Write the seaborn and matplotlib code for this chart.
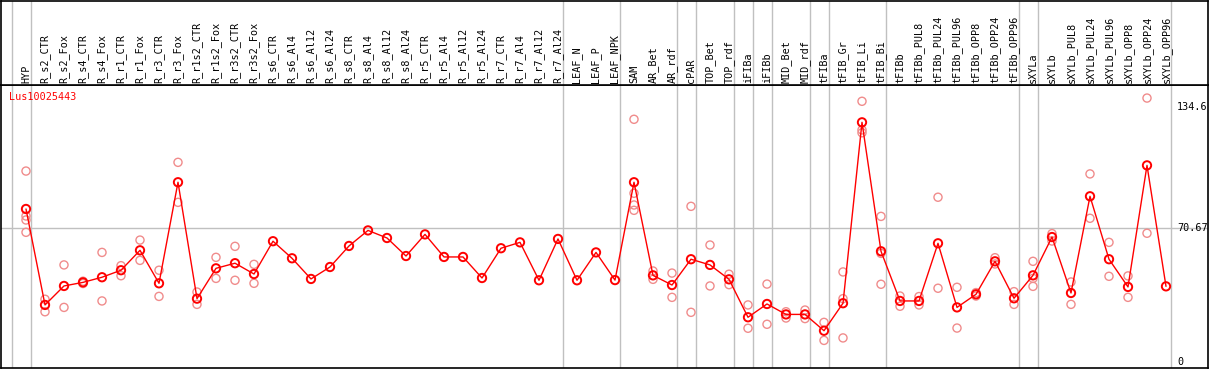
import matplotlib
matplotlib.use("Agg")
import matplotlib.pyplot as plt
import matplotlib.transforms as mtrans
import seaborn as sns
import pandas as pd
import numpy as np

categories = ["HYP", "R_s2_CTR", "R_s2_Fox", "R_s4_CTR", "R_s4_Fox", "R_r1_CTR", "R_r1_Fox",
              "R_r3_CTR", "R_r3_Fox", "R_r1s2_CTR", "R_r1s2_Fox", "R_r3s2_CTR", "R_r3s2_Fox",
              "R_s6_CTR", "R_s6_Al4", "R_s6_Al12", "R_s6_Al24", "R_s8_CTR", "R_s8_Al4",
              "R_s8_Al12", "R_s8_Al24", "R_r5_CTR", "R_r5_Al4", "R_r5_Al12", "R_r5_Al24",
              "R_r7_CTR", "R_r7_Al4", "R_r7_Al12", "R_r7_Al24", "LEAF_N", "LEAF_P", "LEAF_NPK",
              "SAM", "AR_Bet", "AR_rdf", "cPAR", "TOP_Bet", "TOP_rdf", "iFIBa", "iFIBb",
              "MID_Bet", "MID_rdf", "tFIBa", "tFIB_Gr", "tFIB_Li", "tFIB_Bi", "tFIBb",
              "tFIBb_PUL8", "tFIBb_PUL24", "tFIBb_PUL96", "tFIBb_OPP8", "tFIBb_OPP24",
              "tFIBb_OPP96", "sXYLa", "sXYLb", "sXYLb_PUL8", "sXYLb_PUL24", "sXYLb_PUL96",
              "sXYLb_OPP8", "sXYLb_OPP24", "sXYLb_OPP96"]

means = [80.7, 30.1, 40.1, 42.0, 44.7, 48.4, 58.9, 41.5, 94.8, 33.4, 49.4, 52.1, 46.4,
         63.7, 54.7, 43.8, 50.1, 61.2, 69.4, 65.4, 55.9, 67.3, 55.4, 55.4, 44.3,
         60.0, 63.1, 43.1, 64.9, 43.1, 57.8, 43.2,
         94.8, 45.7, 40.6, 54.2, 51.2, 43.6, 23.6, 30.6, 25.1, 25.1, 16.5, 31.0,
         126.4, 58.4, 32.2, 32.2, 62.6, 28.8, 35.7, 53.1, 33.6, 45.7, 65.9, 36.4,
         87.4, 54.2, 39.6, 103.7, 39.9]

replicates = [[100.7, 77.0, 74.9, 68.4], [33.1, 26.5], [51.2, 28.8], [41.4, 42.6],
              [57.8, 32.2], [50.8, 45.5], [64.3, 53.6], [48.4, 34.6], [105.3, 84.2],
              [36.9, 30.4], [55.2, 44.1], [61.0, 43.1], [51.5, 41.5],
              [], [], [], [], [], [], [], [], [], [], [], [], [], [], [], [], [], [], [],
              [128.0, 89.0, 82.8, 80.0], [48.0, 43.6], [46.9, 34.1], [82.1, 26.2],
              [61.7, 40.1], [46.3, 40.8], [30.1, 17.8], [41.1, 19.9], [26.5, 23.2],
              [27.4, 22.9], [20.9, 11.4], [47.5, 33.4, 12.7], [137.5, 122.4, 120.9],
              [76.8, 57.3, 41.0], [34.8, 29.4], [34.5, 30.1], [86.9, 38.9], [39.4, 17.9],
              [36.6, 34.8], [55.0, 51.7], [37.1, 30.4], [53.1, 44.1, 39.9], [67.7, 63.8],
              [42.2, 30.4], [99.2, 75.8], [63.1, 45.2], [45.4, 34.1], [139.2, 67.9], []]

group_breaks = [-1, 0, 28, 31, 34, 35, 37, 38, 39, 41, 42, 45, 52, 53, 60]
y_ticks = [134.6, 70.67, 0]
y_tick_labels = ["134.6", "70.67", "0"]
gene = "Lus10025443"

df_mean = pd.DataFrame({"pos": np.arange(len(categories)), "value": means})
rep_pos, rep_val = [], []
for i, r in enumerate(replicates):
    for v in r:
        rep_pos.append(i)
        rep_val.append(v)
df_rep = pd.DataFrame({"pos": rep_pos, "value": rep_val})

W, H = 1209, 370
fig = plt.figure(figsize=(W / 100, H / 100), dpi=100)
sns.set_style("white")
plt.rcParams["font.family"] = ["DejaVu Sans Mono"]

px = 19.0
x0 = 26.0
xl = -(x0 - 1) / px
xr = (len(categories) - 1) + (1208 - (x0 + px * (len(categories) - 1))) / px
ppu = (362 - 228) / 70.67
yb = -(368 - 362) / ppu
yt = (362 - 85) / ppu

ax = fig.add_axes([1 / W, 2 / H, 1207 / W, 283 / H])
axh = fig.add_axes([1 / W, 285 / H, 1207 / W, 84.5 / H], sharex=ax)

for a in (ax, axh):
    for s in a.spines.values():
        s.set_color("black")
        s.set_linewidth(1.2)
        s.set_visible(True)
    a.set_xticks([])
    a.set_yticks([])
    a.set_xlabel("")
    a.set_ylabel("")
    for g in group_breaks:
        a.axvline(g + 4.5 / px, color="#c0c0c0", lw=1.0, zorder=0)

ax.set_xlim(xl, xr)
ax.set_ylim(yb, yt)
axh.set_ylim(0, 1)
ax.axhline(70.67, color="#c0c0c0", lw=1.0, zorder=0)

sns.scatterplot(data=df_rep, x="pos", y="value", ax=ax, marker="o", s=34,
                facecolors="none", edgecolor="#f08c8c", linewidth=1.0, zorder=2)
sns.lineplot(data=df_mean, x="pos", y="value", ax=ax, color="red", lw=1.0, zorder=3)
sns.scatterplot(data=df_mean, x="pos", y="value", ax=ax, marker="o", s=36,
                facecolors="none", edgecolor="red", linewidth=1.4, zorder=4)
ax.set_xlabel("")
ax.set_ylabel("")
ax.set_xticks([])
ax.set_yticks([])

fs = 7.3
for yv, lab in zip(y_ticks, y_tick_labels):
    ax.text((1177 - x0) / px, yv, lab, ha="left", va="center", fontsize=fs,
            color="black", clip_on=False)

ax.text((9 - x0) / px, (362 - 97) / ppu, gene, ha="left", va="center",
        fontsize=fs, color="red")

trans = mtrans.blended_transform_factory(axh.transData, axh.transAxes)
for i, c in enumerate(categories):
    axh.text(i, 2 / 85, c, rotation=90, ha="center", va="bottom", fontsize=fs,
             color="black", transform=trans)

fig.savefig("out.png", dpi=100)
